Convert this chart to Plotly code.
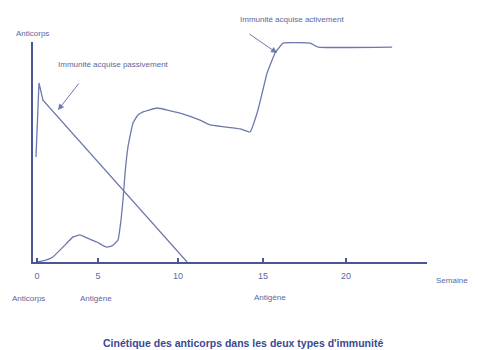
import plotly.graph_objects as go

# Semaines (échelle du dessin) et niveau d'anticorps (0-100)
passif_x = [-0.06, 0.12, 0.36, 9.04]
passif_y = [47.7, 81.4, 73.6, 0]

actif_x = [0, 0.48, 0.96, 1.57, 2.17, 2.59, 3.07, 3.61, 3.92, 4.22, 4.52, 4.88, 5.06,
           5.18, 5.30, 5.48, 5.78, 6.08, 6.39, 7.23, 8.61, 9.82, 10.42, 12.23, 12.83,
           13.31, 13.86, 14.34, 14.82, 16.45, 16.93, 21.39]
actif_y = [0, 0.7, 2.3, 6.8, 11.4, 12.3, 10.7, 9.1, 7.7, 6.8, 7.3, 10, 19.1,
           28.2, 40, 52.3, 63.2, 66.8, 68.2, 70, 67.7, 64.5, 62.3, 60.5, 59.1,
           69.1, 85.9, 95, 99.5, 99.5, 97.7, 97.7]

tick_pos = [0, 3.67, 8.49, 13.61, 18.61]
tick_txt = ["0", "5", "10", "15", "20"]

LINE = "#6d79ab"
AXE = "#4b5694"
TXT = "#5a67a3"

# la page html a une marge de 8px : on la compense
fig = go.Figure()
fig.add_trace(go.Scatter(x=passif_x, y=passif_y, mode="lines",
                         line=dict(color=LINE, width=1.3)))
fig.add_trace(go.Scatter(x=actif_x, y=actif_y, mode="lines",
                         line=dict(color=LINE, width=1.3, shape="spline", smoothing=0.3)))

fig.update_layout(
    width=470, height=342,
    margin=dict(l=25, r=51, t=34, b=88),
    plot_bgcolor="white", paper_bgcolor="white",
    showlegend=False,
    font=dict(family="Liberation Sans, Arial", size=8, color=TXT),
)
fig.update_xaxes(range=[-0.24, 23.49], showgrid=False, zeroline=False,
                 showline=True, linecolor=AXE, linewidth=2,
                 tickvals=tick_pos, ticktext=tick_txt, ticks="inside",
                 ticklen=4, tickcolor=AXE, tickwidth=1.5,
                 tickfont=dict(size=9, color=TXT), ticklabelstandoff=4)
fig.update_yaxes(range=[0, 100], showgrid=False, zeroline=False,
                 showline=True, linecolor=AXE, linewidth=2,
                 showticklabels=False, ticks="")


def px2paper(px, py):
    return (px - 33) / 394, (262 - py) / 220


notes = [
    ("Anticorps", 32, 34),
    ("Immunité acquise passivement", 113, 64),
    ("Immunité acquise activement", 292, 20),
    ("Anticorps", 28, 298),
    ("Antigène", 96, 298),
    ("Antigène", 270, 297),
    ("Semaine", 452, 280),
]
for txt, px, py in notes:
    x, y = px2paper(px, py)
    fig.add_annotation(text=txt, x=x, y=y, xref="paper", yref="paper",
                       xanchor="center", yanchor="middle", showarrow=False,
                       font=dict(size=8, color=TXT))

# flèches
x, y = px2paper(58, 110)
fig.add_annotation(x=x, y=y, ax=22, ay=-28, xref="paper", yref="paper",
                   text="", showarrow=True, arrowhead=2, arrowsize=1.2,
                   arrowwidth=1, arrowcolor=LINE)
x, y = px2paper(277, 53)
fig.add_annotation(x=x, y=y, ax=-29, ay=-20, xref="paper", yref="paper",
                   text="", showarrow=True, arrowhead=2, arrowsize=1.2,
                   arrowwidth=1, arrowcolor=LINE)

x, y = px2paper(243, 343)
fig.add_annotation(text="<b>Cinétique des anticorps dans les deux types d'immunité</b>",
                   x=x, y=y, xref="paper", yref="paper", xanchor="center", yanchor="middle",
                   showarrow=False, font=dict(size=10.5, color="#3a4892"))

fig.write_html("out.html")
